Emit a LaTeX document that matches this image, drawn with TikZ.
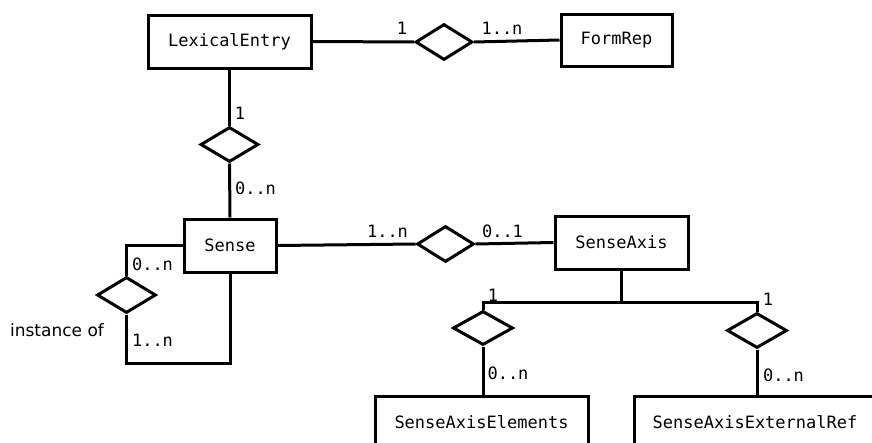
\documentclass[tikz,border=0pt]{standalone}
\usepackage{fontspec}
\setmonofont{DejaVu Sans Mono}
\setsansfont{DejaVu Sans}
\usetikzlibrary{shapes.geometric}
\tikzset{
  entity/.style={draw, line width=3pt, rectangle, inner sep=0pt,
    font=\ttfamily\fontsize{17}{20}\selectfont},
  rel/.style={draw, line width=3pt, diamond, inner sep=0pt},
  card/.style={inner sep=0pt, font=\ttfamily\fontsize{17}{20}\selectfont},
  link/.style={line width=3pt},
}
\begin{document}
\begin{tikzpicture}[x=1pt,y=-1pt]
\useasboundingbox (0,0) rectangle (872,442);
\clip (0,0) rectangle (872,442);
\fill[white] (0,0) rectangle (872,442);

% entities
\node[entity, minimum width=163pt, minimum height=53pt] (le) at (229.5,41.5) {LexicalEntry};
\node[entity, minimum width=111pt, minimum height=52pt] (fr) at (616.5,40) {FormRep};
\node[entity, minimum width=92pt, minimum height=53pt] (sense) at (230,245.5) {Sense};
\node[entity, minimum width=133pt, minimum height=53pt] (sa) at (621.5,242.5) {SenseAxis};
\node[entity, minimum width=213pt, minimum height=52pt] (sae) at (481.5,422) {SenseAxisElements};
\node[entity, minimum width=242pt, minimum height=52pt] (saer) at (755,422) {SenseAxisExternalRef};

% relationships
\node[rel, minimum width=57pt, minimum height=36pt] (d1) at (444,42) {};
\node[rel, minimum width=58pt, minimum height=35pt] (d2) at (229.5,144.5) {};
\node[rel, minimum width=59pt, minimum height=36pt] (d3) at (126.5,295) {};
\node[rel, minimum width=57pt, minimum height=36pt] (d4) at (445.5,244) {};
\node[rel, minimum width=60pt, minimum height=34pt] (d5) at (483,328) {};
\node[rel, minimum width=60pt, minimum height=35pt] (d6) at (757,330.5) {};

% connectors
\draw[link] (le.east) -- (d1.west);
\draw[link] (d1.east) -- (fr.west);
\draw[link] (le.south) -- (d2.north);
\draw[link] (d2.south) -- (sense.north);
\draw[link] (sense.west) -| (d3.north);
\coordinate (loop) at (126.5,363);
\draw[link] (d3.south) -- (loop) -| (sense.south);
\draw[link] (sense.east) -- (d4.west);
\draw[link] (d4.east) -- (sa.west);
\coordinate (fork) at (621.5,302);
\draw[link] (sa.south) -- (fork);
\draw[link] (d5.north) -- (d5.north |- fork) -- (d6.north |- fork) -- (d6.north);
\draw[link] (d5.south) -- (sae.north -| d5.south);
\draw[link] (d6.south) -- (saer.north -| d6.south);

% cardinalities
\node[card] (c1) at (402,28) {1};
\node[card] (c2) at (502,28) {1..n};
\node[card] (c3) at (240,113) {1};
\node[card] (c4) at (255.5,188) {0..n};
\node[card] (c5) at (152.5,264) {0..n};
\node[card] (c6) at (152.5,340) {1..n};
\node[card] (c7) at (387.5,231) {1..n};
\node[card] (c8) at (502.5,231) {0..1};
\node[card] (c9) at (493,295) {1};
\node[card] (c10) at (768,299) {1};
\node[card] (c11) at (508,373) {0..n};
\node[card] (c12) at (783.5,375) {0..n};
\node[inner sep=0pt, font=\sffamily\fontsize{17}{20}\selectfont] (inst) at (57,330) {instance of};
\end{tikzpicture}
\end{document}
